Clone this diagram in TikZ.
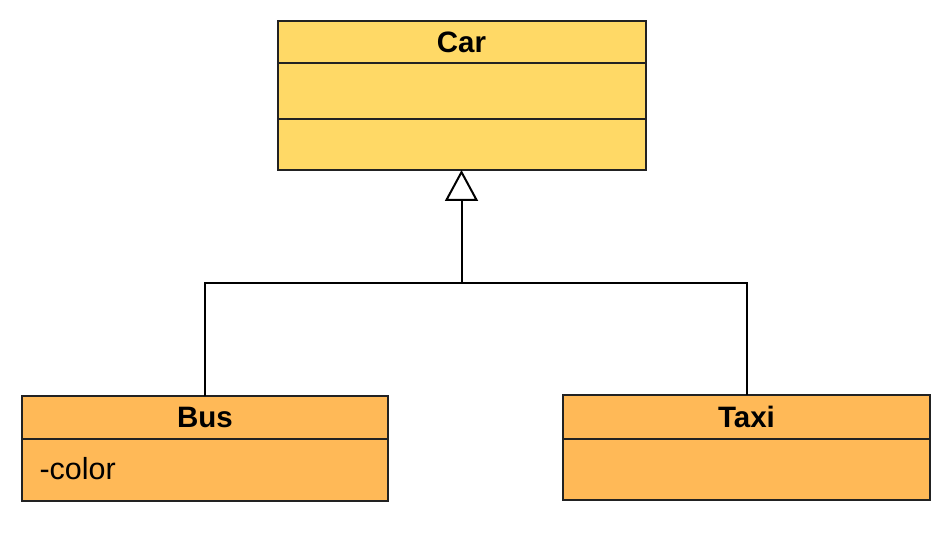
\documentclass[tikz,border=0pt]{standalone}
\usepackage{fontspec}
\setmainfont{Liberation Sans}
\usetikzlibrary{arrows.meta}
\definecolor{caryellow}{HTML}{FFD966}
\definecolor{suborange}{HTML}{FFB957}
\definecolor{edge}{HTML}{222222}
\tikzset{
  umlpart/.style={draw=edge, line width=2pt, rectangle, inner sep=0pt, outer sep=0pt},
  carpart/.style={umlpart, fill=caryellow, minimum width=368pt},
  subpart/.style={umlpart, fill=suborange, minimum width=366pt},
  title/.style={font=\fontsize{29.5}{32}\selectfont\bfseries},
  attr/.style={font=\fontsize{30.5}{33}\selectfont, anchor=west},
  conn/.style={draw=black, line width=2pt},
  inherit/.style={conn, -{Triangle[open, length=31pt, width=33pt, line width=2pt]}}
}
\begin{document}
\begin{tikzpicture}[x=1pt, y=-1pt]
\useasboundingbox (0,0) rectangle (940,548);
\fill[white] (0,0) rectangle (940,548);
% Car
\node[carpart, minimum height=42pt, title] (carh) at (461.5,42) {Car};
\node[carpart, minimum height=56pt] (carm) at (461.5,91) {};
\node[carpart, minimum height=51pt] (carb) at (461.5,144.5) {};
% Bus
\node[subpart, minimum height=43pt, title] (bush) at (205,417.5) {Bus};
\node[subpart, minimum height=62pt] (busb) at (205,470) {};
\node[attr] (busattr) at (36,469) {-color};
% Taxi
\node[subpart, minimum width=367pt, minimum height=44pt, title] (taxih) at (746.5,417) {Taxi};
\node[subpart, minimum width=367pt, minimum height=61pt] (taxib) at (746.5,469.5) {};
% Connectors
\coordinate (j) at (461.5,283);
\draw[conn] (bush.north) |- (j) -| (taxih.north);
\draw[inherit] (j) -- (carb.south);
\end{tikzpicture}
\end{document}
